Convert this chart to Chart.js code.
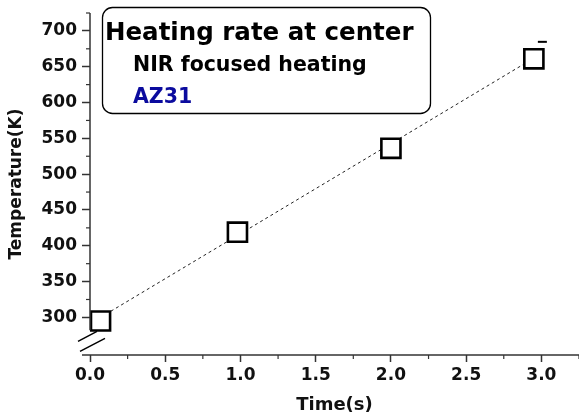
<!DOCTYPE html>
<html>
<head>
<meta charset="utf-8">
<script src="https://cdn.jsdelivr.net/npm/chart.js@4.4.0/dist/chart.umd.min.js"></script>
<style>
  body { margin: 0; background: #fff; }
  #wrap { width: 579px; height: 419px; position: relative; }
</style>
</head>
<body>
<div id="wrap"><canvas id="heatChart"></canvas></div>
<script>
// measured points (time in s, temperature in K)
const timeValues = [0.07, 0.98, 2.0, 2.95];
const tempValues = [295, 419, 536, 661];
// dashed linear fit
const fitTime = [0.07, 2.95];
const fitTemp = [300, 662];
// axis ticks
const xTicks = [0, 0.5, 1.0, 1.5, 2.0, 2.5, 3.0];
const yTicks = [300, 350, 400, 450, 500, 550, 600, 650, 700];
const boxLines = ['Heating rate at center', 'NIR focused heating', 'AZ31'];

const FONT = 'DejaVu Sans';
Chart.defaults.font.family = FONT;
Chart.defaults.font.weight = 'bold';
Chart.defaults.color = '#111';

const axisColor = '#333';

// draws the broken axis lines, minor ticks and the text box
const decorPlugin = {
    id: 'decor',
    afterDraw(chart) {
        const ctx = chart.ctx;
        const xs = chart.scales.x, ys = chart.scales.y;
        const area = chart.chartArea;
        ctx.save();
        ctx.strokeStyle = axisColor;
        ctx.lineWidth = 1.5;

        // y axis, stops above the break
        ctx.beginPath();
        ctx.moveTo(area.left, area.top);
        ctx.lineTo(area.left, ys.getPixelForValue(282));
        ctx.stroke();

        // x axis, runs a bit past the origin
        ctx.beginPath();
        ctx.moveTo(area.left - 8, area.bottom);
        ctx.lineTo(area.right, area.bottom);
        ctx.stroke();

        // minor ticks
        ctx.lineWidth = 1.2;
        for (let i = 0; i < yTicks.length; i++) {
            const v = yTicks[i] + 25;
            const py = ys.getPixelForValue(v);
            ctx.beginPath();
            ctx.moveTo(area.left - 4, py);
            ctx.lineTo(area.left, py);
            ctx.stroke();
        }
        for (let i = 0; i < xTicks.length; i++) {
            const v = xTicks[i] + 0.25;
            const px = xs.getPixelForValue(v);
            ctx.beginPath();
            ctx.moveTo(px, area.bottom);
            ctx.lineTo(px, area.bottom + 4);
            ctx.stroke();
        }

        // axis break marks
        const bx = area.left, by = ys.getPixelForValue(268);
        ctx.strokeStyle = '#000';
        ctx.lineWidth = 1.5;
        ctx.beginPath();
        ctx.moveTo(bx - 12, by + 1);
        ctx.lineTo(bx + 7, by - 9);
        ctx.moveTo(bx - 10, by + 11);
        ctx.lineTo(bx + 15, by - 2);
        ctx.stroke();

        // small dash above the last point
        const last = chart.getDatasetMeta(0).data[timeValues.length - 1];
        ctx.lineWidth = 2;
        ctx.beginPath();
        ctx.moveTo(last.x + 4, last.y - 17);
        ctx.lineTo(last.x + 13, last.y - 17);
        ctx.stroke();

        // text box
        const x0 = 102, y0 = 7, w = 328, h = 106;
        ctx.lineWidth = 1.3;
        ctx.strokeStyle = '#000';
        ctx.beginPath();
        ctx.roundRect(x0 + 0.5, y0 + 0.5, w, h, 10);
        ctx.fillStyle = '#fff';
        ctx.fill();
        ctx.stroke();

        ctx.textBaseline = 'alphabetic';
        ctx.textAlign = 'left';
        ctx.fillStyle = '#000';
        ctx.font = 'bold 24.5px ' + FONT;
        ctx.fillText(boxLines[0], 105, 40);
        ctx.font = 'bold 20.5px ' + FONT;
        ctx.fillText(boxLines[1], 133, 71);
        ctx.fillStyle = '#0b0b9e';
        ctx.fillText(boxLines[2], 133, 103);
        ctx.restore();
    }
};

new Chart(document.getElementById('heatChart'), {
    type: 'scatter',
    data: {
        datasets: [
            {
                label: 'measured',
                data: timeValues.map((t, i) => ({x: t, y: tempValues[i]})),
                pointStyle: 'rect',
                pointRadius: 13.5,
                pointHoverRadius: 13.5,
                pointBorderWidth: 2.6,
                pointBackgroundColor: '#fff',
                pointBorderColor: '#000',
                showLine: false,
                order: 0
            },
            {
                label: 'fit',
                data: fitTime.map((t, i) => ({x: t, y: fitTemp[i]})),
                showLine: true,
                borderColor: '#222',
                borderWidth: 1,
                borderDash: [3, 3],
                pointRadius: 0,
                order: 1
            }
        ]
    },
    options: {
        responsive: true,
        maintainAspectRatio: false,
        animation: false,
        layout: { autoPadding: false, padding: { top: 13, right: 0, left: 0, bottom: 0 } },
        plugins: {
            legend: { display: false },
            tooltip: { enabled: false }
        },
        scales: {
            x: {
                type: 'linear',
                min: 0,
                max: 3.25,
                afterBuildTicks: (s) => { s.ticks = xTicks.map(v => ({value: v})); },
                afterFit: (s) => { s.height = 64; s.paddingLeft = 0; s.paddingRight = 0; },
                border: { display: false },
                grid: {
                    drawOnChartArea: false,
                    drawTicks: true,
                    tickLength: 7,
                    tickColor: axisColor,
                    tickWidth: 1.5
                },
                ticks: {
                    color: '#111',
                    font: { size: 17, weight: 'bold' },
                    padding: 3,
                    maxRotation: 0,
                    callback: (v) => Number(v).toFixed(1)
                },
                title: {
                    display: true,
                    text: 'Time(s)',
                    color: '#111',
                    font: { size: 18, weight: 'bold' },
                    padding: { top: 0, bottom: 3 }
                }
            },
            y: {
                type: 'linear',
                min: 247.5,
                max: 725,
                afterBuildTicks: (s) => { s.ticks = yTicks.map(v => ({value: v})); },
                afterFit: (s) => { s.width = 90; s.paddingTop = 0; s.paddingBottom = 0; },
                border: { display: false },
                grid: {
                    drawOnChartArea: false,
                    drawTicks: true,
                    tickLength: 8,
                    tickColor: axisColor,
                    tickWidth: 1.5
                },
                ticks: {
                    color: '#111',
                    font: { size: 17, weight: 'bold' },
                    padding: 5
                },
                title: {
                    display: true,
                    text: 'Temperature(K)',
                    color: '#111',
                    font: { size: 17, weight: 'bold' },
                    padding: { top: 6, bottom: 0 }
                }
            }
        }
    },
    plugins: [decorPlugin]
});
</script>
</body>
</html>
